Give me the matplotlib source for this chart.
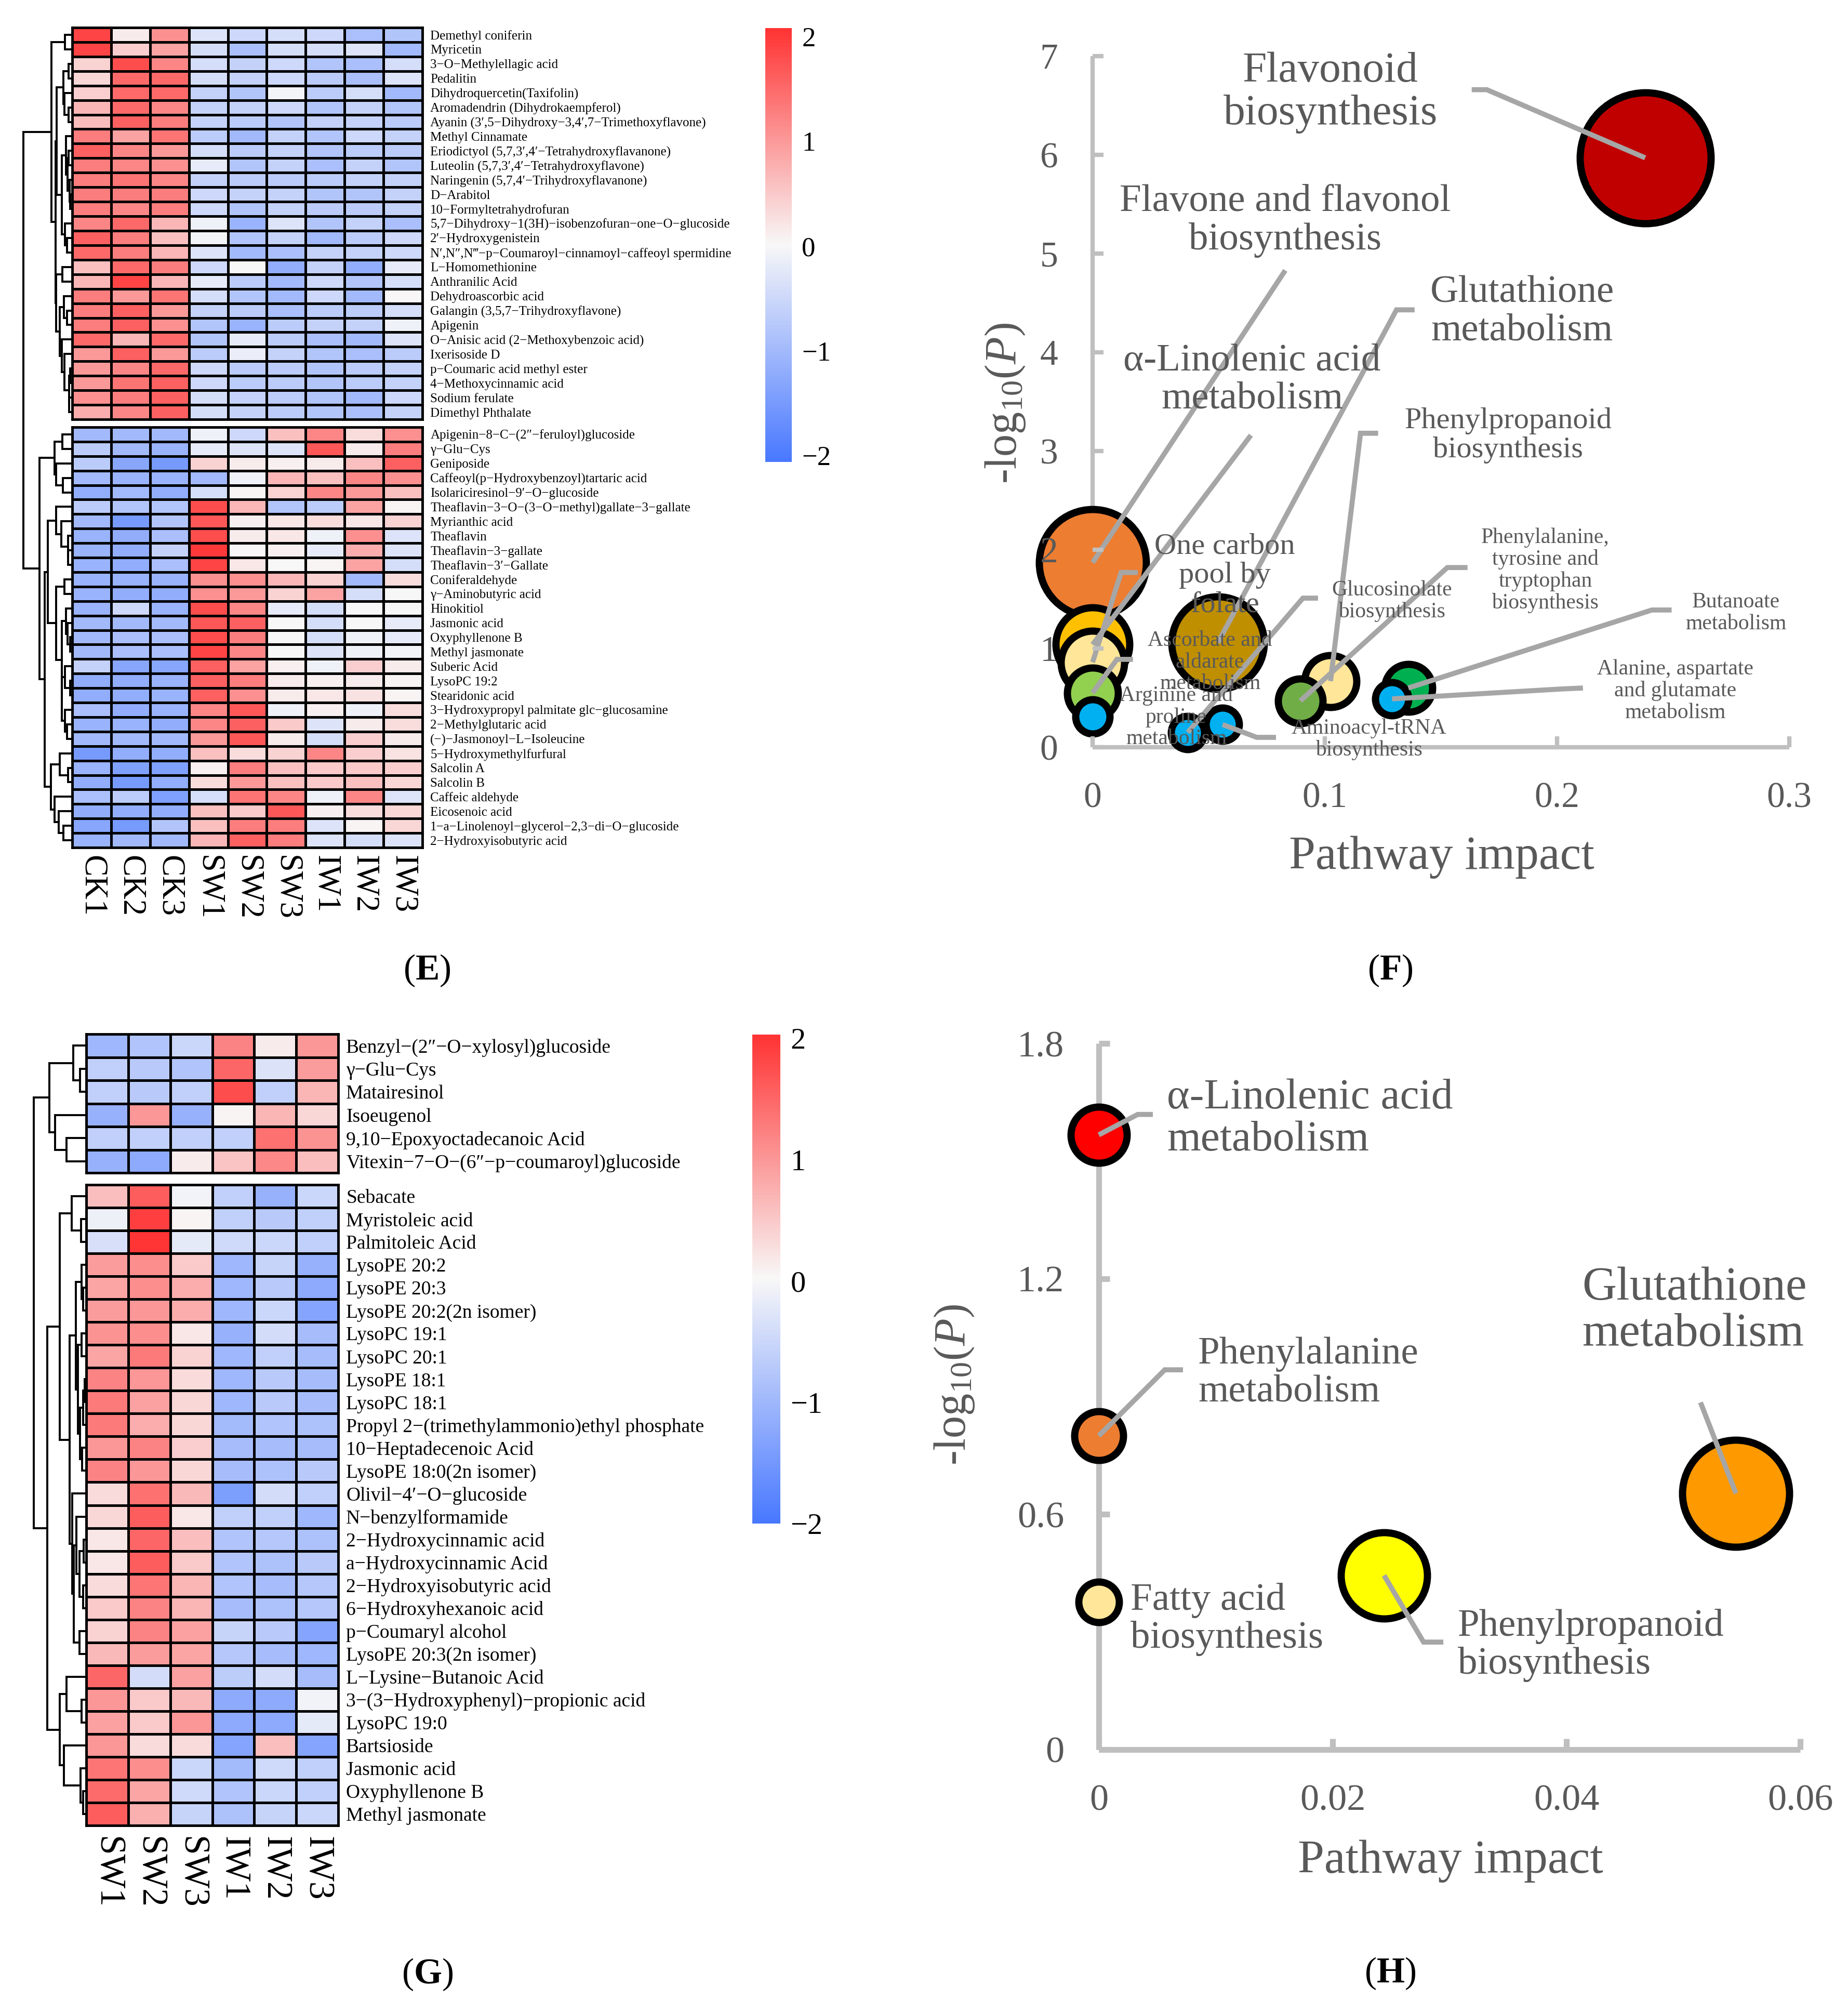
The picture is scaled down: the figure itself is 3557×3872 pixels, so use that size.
import numpy as np
import matplotlib
matplotlib.use('Agg')
import matplotlib.pyplot as plt
from matplotlib.colors import LinearSegmentedColormap, Normalize

plt.rcParams['font.family'] = ['Liberation Serif', 'DejaVu Serif']
plt.rcParams['mathtext.fontset'] = 'custom'
plt.rcParams['mathtext.rm'] = 'Liberation Serif'
plt.rcParams['mathtext.it'] = 'Liberation Serif:italic'
plt.rcParams['mathtext.bf'] = 'Liberation Serif:bold'

# ---------------- data ----------------
e_cols = ['CK1', 'CK2', 'CK3', 'SW1', 'SW2', 'SW3', 'IW1', 'IW2', 'IW3']
e_top_rows = [
    'Demethyl coniferin', 'Myricetin', '3−O−Methylellagic acid', 'Pedalitin',
    'Dihydroquercetin(Taxifolin)', 'Aromadendrin (Dihydrokaempferol)',
    'Ayanin (3′,5−Dihydroxy−3,4′,7−Trimethoxyflavone)', 'Methyl Cinnamate',
    'Eriodictyol (5,7,3′,4′−Tetrahydroxyflavanone)', 'Luteolin (5,7,3′,4′−Tetrahydroxyflavone)',
    'Naringenin (5,7,4′−Trihydroxyflavanone)', 'D−Arabitol', '10−Formyltetrahydrofuran',
    '5,7−Dihydroxy−1(3H)−isobenzofuran−one−O−glucoside', '2′−Hydroxygenistein',
    'N′,N″,N‴−p−Coumaroyl−cinnamoyl−caffeoyl spermidine', 'L−Homomethionine',
    'Anthranilic Acid', 'Dehydroascorbic acid', 'Galangin (3,5,7−Trihydroxyflavone)',
    'Apigenin', 'O−Anisic acid (2−Methoxybenzoic acid)', 'Ixerisoside D',
    'p−Coumaric acid methyl ester', '4−Methoxycinnamic acid', 'Sodium ferulate',
    'Dimethyl Phthalate']
e_top_vals = [
    [1.9, 0.15, 1.1, -0.3, -0.5, -0.4, -0.5, -0.9, -0.8],
    [1.9, 0.45, 0.9, -0.4, -0.9, -0.4, -0.4, -0.3, -1.0],
    [0.4, 1.8, 1.2, -0.4, -0.6, -0.5, -0.8, -0.9, -0.4],
    [0.35, 1.5, 1.5, -0.4, -0.6, -0.5, -0.7, -0.9, -0.3],
    [0.45, 1.5, 1.5, -0.6, -0.8, -0.05, -0.7, -0.4, -1.0],
    [0.7, 1.5, 1.2, -0.6, -0.6, -0.5, -0.8, -0.6, -0.8],
    [0.65, 1.6, 1.3, -0.6, -0.7, -0.8, -0.6, -0.6, -0.7],
    [1.3, 0.9, 1.4, -0.7, -1.0, -0.6, -0.8, -0.5, -0.6],
    [1.6, 1.2, 1.0, -0.4, -0.7, -0.6, -0.8, -0.7, -0.7],
    [1.3, 1.2, 1.1, -0.2, -0.8, -0.6, -0.9, -0.6, -0.8],
    [1.3, 1.4, 1.2, -0.6, -0.7, -0.7, -0.7, -0.6, -0.6],
    [1.3, 1.3, 1.3, -0.5, -0.6, -0.6, -0.8, -0.8, -0.6],
    [1.3, 1.2, 1.3, -0.5, -0.8, -0.6, -0.7, -0.7, -0.6],
    [1.2, 1.5, 0.7, -0.1, -1.1, -0.3, -0.8, -0.6, -0.9],
    [1.6, 1.3, 0.6, -0.05, -0.8, -0.6, -1.0, -0.7, -0.5],
    [1.5, 1.3, 0.7, -0.3, -1.0, -0.9, -0.6, -0.6, -0.5],
    [0.6, 1.5, 1.3, -0.5, 0.02, -1.2, -0.6, -1.2, -0.2],
    [0.7, 1.9, 0.7, -0.2, -0.7, -1.0, -0.5, -0.8, -0.4],
    [1.3, 1.0, 1.4, -0.4, -0.8, -1.0, -0.5, -1.0, 0.03],
    [1.3, 1.6, 1.0, -0.6, -0.7, -0.9, -0.7, -0.7, -0.4],
    [1.3, 1.6, 1.1, -0.8, -1.1, -0.7, -0.6, -0.6, -0.1],
    [1.5, 0.7, 1.5, -0.8, -0.2, -0.7, -0.9, -1.0, -0.3],
    [1.0, 1.6, 1.0, -0.7, -0.15, -0.6, -0.8, -0.9, -0.7],
    [1.0, 1.2, 1.5, -0.5, -0.7, -0.7, -0.8, -0.7, -0.6],
    [1.0, 1.4, 1.6, -0.5, -0.7, -0.7, -0.8, -0.7, -0.6],
    [1.1, 1.3, 1.6, -0.4, -0.6, -0.7, -0.8, -1.0, -0.5],
    [0.8, 1.2, 1.6, -0.4, -0.6, -0.7, -0.8, -0.9, -0.6]]
e_bot_rows = [
    'Apigenin−8−C−(2″−feruloyl)glucoside', 'γ−Glu−Cys', 'Geniposide',
    'Caffeoyl(p−Hydroxybenzoyl)tartaric acid', 'Isolariciresinol−9′−O−glucoside',
    'Theaflavin−3−O−(3−O−methyl)gallate−3−gallate', 'Myrianthic acid', 'Theaflavin',
    'Theaflavin−3−gallate', 'Theaflavin−3′−Gallate', 'Coniferaldehyde',
    'γ−Aminobutyric acid', 'Hinokitiol', 'Jasmonic acid', 'Oxyphyllenone B',
    'Methyl jasmonate', 'Suberic Acid', 'LysoPC 19:2', 'Stearidonic acid',
    '3−Hydroxypropyl palmitate glc−glucosamine', '2−Methylglutaric acid',
    '(−)−Jasmonoyl−L−Isoleucine', '5−Hydroxymethylfurfural', 'Salcolin A', 'Salcolin B',
    'Caffeic aldehyde', 'Eicosenoic acid', '1−a−Linolenoyl−glycerol−2,3−di−O−glucoside',
    '2−Hydroxyisobutyric acid']
e_bot_vals = [
    [-1.0, -1.0, -1.0, -0.1, -0.5, 0.6, 1.2, 0.3, 1.1],
    [-0.7, -1.0, -1.1, -0.2, -0.3, -0.3, 1.7, 0.15, 1.3],
    [-0.7, -1.3, -1.5, 0.4, 0.15, 0.1, 0.15, 0.6, 1.6],
    [-1.0, -1.1, -1.1, -1.0, -0.1, 0.7, 0.6, 1.2, 1.1],
    [-1.2, -1.0, -1.2, -0.4, 0.05, 0.4, 1.2, 1.0, 0.6],
    [-0.7, -0.8, -0.8, 1.8, 0.7, -0.8, -0.7, 0.9, 0.05],
    [-1.0, -1.5, -0.8, 1.7, 0.1, 0.2, 0.3, 0.2, 0.4],
    [-1.1, -1.2, -0.9, 1.8, 0.15, 0.2, -0.1, 1.1, -0.3],
    [-1.1, -1.2, -0.6, 2.0, 0.03, 0.1, -0.2, 0.8, -0.3],
    [-1.1, -1.2, -0.9, 1.9, 0.2, 0.02, 0.05, 0.9, -0.4],
    [-1.1, -1.1, -1.1, 1.1, 1.1, 0.7, 0.4, -1.0, 0.3],
    [-1.1, -1.2, -1.2, 1.1, 1.0, 0.4, 0.9, -0.4, 0.02],
    [-1.1, -0.5, -1.1, 1.8, 1.2, -0.2, -0.4, 0.02, 0.02],
    [-1.0, -1.0, -1.0, 1.7, 1.6, 0.02, -0.4, 0.02, -0.2],
    [-1.0, -0.9, -0.9, 1.8, 1.3, 0.02, -0.4, -0.1, -0.2],
    [-1.0, -0.9, -0.9, 1.9, 1.2, 0.02, -0.3, -0.1, -0.05],
    [-0.6, -1.3, -1.3, 1.6, 0.9, 0.1, -0.1, 0.45, 0.15],
    [-1.2, -1.2, -1.1, 1.6, 1.3, 0.15, 0.1, 0.15, 0.05],
    [-1.2, -1.2, -1.1, 1.6, 1.1, 0.15, 0.2, 0.25, 0.05],
    [-0.9, -1.2, -1.1, 1.2, 1.7, -0.1, 0.1, -0.1, 0.3],
    [-1.1, -1.1, -1.2, 1.2, 1.6, 0.5, -0.3, 0.15, 0.3],
    [-1.0, -1.0, -1.0, 1.0, 1.7, 0.15, -0.4, 0.45, 0.15],
    [-1.5, -1.2, -1.2, 0.6, 0.3, 0.4, 1.2, 0.45, 0.25],
    [-1.1, -1.4, -1.4, 0.1, 1.3, 0.6, 0.5, 0.5, 0.45],
    [-1.2, -1.5, -1.2, 0.3, 1.0, 0.6, 0.5, 0.6, 0.35],
    [-0.9, -0.7, -1.4, -0.4, 1.4, 1.2, -0.1, 1.2, -0.3],
    [-1.2, -1.2, -1.2, 0.6, 0.5, 1.7, 0.1, 0.3, 0.35],
    [-1.3, -1.5, -0.8, 0.6, 1.3, 1.3, -0.3, 0.05, 0.35],
    [-1.1, -1.0, -1.0, 0.7, 1.6, 1.3, -0.3, -0.4, -0.3]]

g_cols = ['SW1', 'SW2', 'SW3', 'IW1', 'IW2', 'IW3']
g_top_rows = ['Benzyl−(2″−O−xylosyl)glucoside', 'γ−Glu−Cys', 'Matairesinol', 'Isoeugenol',
              '9,10−Epoxyoctadecanoic Acid', 'Vitexin−7−O−(6″−p−coumaroyl)glucoside']
g_top_vals = [
    [-1.0, -0.8, -0.5, 1.2, 0.15, 1.0],
    [-0.6, -0.7, -0.8, 1.5, -0.3, 0.95],
    [-0.6, -0.7, -0.6, 1.75, -0.6, 0.7],
    [-1.1, 1.0, -1.1, 0.05, 0.7, 0.35],
    [-0.6, -0.6, -0.6, -0.6, 1.4, 1.05],
    [-1.1, -1.2, 0.15, 0.55, 1.15, 0.6]]
g_bot_rows = [
    'Sebacate', 'Myristoleic acid', 'Palmitoleic Acid', 'LysoPE 20:2', 'LysoPE 20:3',
    'LysoPE 20:2(2n isomer)', 'LysoPC 19:1', 'LysoPC 20:1', 'LysoPE 18:1', 'LysoPC 18:1',
    'Propyl 2−(trimethylammonio)ethyl phosphate', '10−Heptadecenoic Acid',
    'LysoPE 18:0(2n isomer)', 'Olivil−4′−O−glucoside', 'N−benzylformamide',
    '2−Hydroxycinnamic acid', 'a−Hydroxycinnamic Acid', '2−Hydroxyisobutyric acid',
    '6−Hydroxyhexanoic acid', 'p−Coumaryl alcohol', 'LysoPE 20:3(2n isomer)',
    'L−Lysine−Butanoic Acid', '3−(3−Hydroxyphenyl)−propionic acid', 'LysoPC 19:0',
    'Bartsioside', 'Jasmonic acid', 'Oxyphyllenone B', 'Methyl jasmonate']
g_bot_vals = [
    [0.6, 1.6, -0.05, -0.6, -1.1, -0.5],
    [-0.1, 1.9, 0.05, -0.6, -0.7, -0.6],
    [-0.35, 2.0, -0.2, -0.45, -0.5, -0.6],
    [0.95, 1.1, 0.5, -1.0, -0.55, -1.1],
    [0.85, 1.1, 0.8, -1.0, -0.7, -1.2],
    [0.95, 1.0, 0.8, -1.0, -0.5, -1.3],
    [1.05, 1.1, 0.2, -1.1, -0.4, -0.9],
    [0.85, 1.3, 0.4, -1.0, -0.6, -0.9],
    [1.2, 1.0, 0.3, -1.0, -0.7, -0.9],
    [1.3, 0.9, 0.35, -1.0, -0.7, -0.9],
    [1.3, 0.8, 0.35, -0.95, -0.8, -0.85],
    [1.0, 1.2, 0.45, -0.9, -0.9, -0.9],
    [1.2, 1.0, 0.35, -0.9, -0.85, -0.7],
    [0.3, 1.4, 0.65, -1.4, -0.4, -0.6],
    [0.35, 1.6, 0.2, -0.6, -0.6, -1.0],
    [0.2, 1.5, 0.6, -0.8, -0.75, -0.85],
    [0.2, 1.6, 0.5, -0.8, -0.85, -0.7],
    [0.3, 1.35, 0.7, -0.8, -0.9, -0.75],
    [0.5, 1.2, 0.7, -0.9, -0.85, -0.75],
    [0.4, 1.2, 0.9, -0.55, -0.7, -1.3],
    [0.65, 0.95, 0.85, -0.75, -0.9, -1.0],
    [1.5, -0.4, 0.9, -0.65, -0.4, -0.9],
    [1.0, 0.5, 0.65, -1.2, -1.2, -0.05],
    [0.9, 0.5, 1.0, -1.2, -1.2, -0.2],
    [1.0, 0.3, 0.3, -1.3, 0.6, -1.3],
    [1.35, 1.1, -0.5, -0.95, -0.45, -0.6],
    [1.45, 0.85, -0.45, -0.8, -0.5, -0.6],
    [1.6, 0.75, -0.55, -0.85, -0.55, -0.5]]

# panel F: pathway topology, listed in drawing order
f_pathways = ['Flavonoid\nbiosynthesis', 'Flavone and flavonol\nbiosynthesis',
              'α-Linolenic acid\nmetabolism', 'One carbon\npool by\nfolate',
              'Ascorbate and\naldarate\nmetabolism', 'Arginine and\nproline\nmetabolism',
              'Glutathione\nmetabolism', 'Glucosinolate\nbiosynthesis',
              'Aminoacyl-tRNA\nbiosynthesis', 'Phenylpropanoid\nbiosynthesis',
              'Phenylalanine,\ntyrosine and\ntryptophan\nbiosynthesis',
              'Butanoate\nmetabolism', 'Alanine, aspartate\nand glutamate\nmetabolism']
f_impact = [0.238, 0.0, 0.0, 0.0, 0.0, 0.0, 0.054, 0.041, 0.056, 0.1025, 0.0895, 0.136, 0.129]
f_logp = [5.97, 1.87, 1.04, 0.86, 0.55, 0.31, 1.06, 0.15, 0.23, 0.67, 0.47, 0.60, 0.49]
f_bubble = [126, 103, 71, 61, 49, 33, 89, 32, 32, 50, 43, 46, 32]
f_colors = ['#C00000', '#ED7D31', '#FFC000', '#FFE699', '#92D050', '#00B0F0', '#BF8F00',
            '#00B0F0', '#00B0F0', '#FFE699', '#70AD47', '#00B050', '#00B0F0']
f_xticks = [0, 0.1, 0.2, 0.3]
f_xticklabels = ['0', '0.1', '0.2', '0.3']
f_yticks = [0, 1, 2, 3, 4, 5, 6, 7]

# panel H
h_pathways = ['α-Linolenic acid\nmetabolism', 'Phenylalanine\nmetabolism',
              'Fatty acid\nbiosynthesis', 'Phenylpropanoid\nbiosynthesis',
              'Glutathione\nmetabolism']
h_impact = [0.0, 0.0, 0.0, 0.0244, 0.0545]
h_logp = [1.567, 0.80, 0.376, 0.444, 0.653]
h_bubble = [54, 47, 39, 83, 103]
h_colors = ['#FF0000', '#ED7D31', '#FFE699', '#FFFF00', '#FF9900']
h_xticks = [0, 0.02, 0.04, 0.06]
h_xticklabels = ['0', '0.02', '0.04', '0.06']
h_yticks = [0, 0.6, 1.2, 1.8]
h_yticklabels = ['0', '0.6', '1.2', '1.8']

# ---------------- layout helpers ----------------
W, H = 3557, 3872
DPI = 100
fig = plt.figure(figsize=(W / DPI, H / DPI), dpi=DPI)
fig.patch.set_facecolor('white')


def rect(x0, y0, x1, y1):
    return [x0 / W, 1 - y1 / H, (x1 - x0) / W, (y1 - y0) / H]


cmap = LinearSegmentedColormap.from_list('bwr_ph', ['#4878FF', '#F8F8F8', '#FF3333'])


def heat_block(box, vals, rows, vmin, vmax, label_fs, cols=None, col_fs=None, col_pad=11):
    ax = fig.add_axes(rect(*box))
    m = np.array(vals)
    ax.pcolormesh(m, cmap=cmap, vmin=vmin, vmax=vmax, edgecolors='black', linewidth=2.3)
    ax.set_xlim(0, m.shape[1])
    ax.set_ylim(m.shape[0], 0)
    ax.set_yticks(np.arange(len(rows)) + 0.5)
    ax.set_yticklabels(rows, fontsize=label_fs)
    ax.yaxis.tick_right()
    ax.tick_params(axis='y', length=0, pad=11)
    if cols is None:
        ax.set_xticks([])
    else:
        ax.set_xticks(np.arange(len(cols)) + 0.5)
        ax.set_xticklabels(cols, fontsize=col_fs, rotation=270)
        ax.tick_params(axis='x', length=0, pad=col_pad)
    for s in ax.spines.values():
        s.set_linewidth(3.5)
    return ax


def chain_tree(vals, leaf_pos):
    # complete linkage restricted to neighbouring clusters (keeps the row order)
    X = np.array(vals)
    D = np.sqrt(((X[:, None, :] - X[None, :, :]) ** 2).sum(-1))
    groups = [[i] for i in range(len(X))]
    nodes = [(p, 0.0) for p in leaf_pos]
    links = []
    while len(groups) > 1:
        d = [D[np.ix_(groups[k], groups[k + 1])].max() for k in range(len(groups) - 1)]
        k = int(np.argmin(d))
        (pa, ha), (pb, hb) = nodes[k], nodes[k + 1]
        h = max(d[k], ha, hb)
        links.append((pa, ha, pb, hb, h))
        groups[k:k + 2] = [groups[k] + groups[k + 1]]
        nodes[k:k + 2] = [((pa + pb) / 2, h)]
    return links, nodes[0][1]


def dendro(box, vals, leaf_pos):
    ax = fig.add_axes(rect(*box))
    links, top = chain_tree(vals, leaf_pos)
    for pa, ha, pb, hb, h in links:
        ax.plot([ha, h, h, hb], [pa, pa, pb, pb], color='black', lw=2.8,
                solid_joinstyle='miter', clip_on=False)
    ax.set_xlim(top, 0)
    ax.set_ylim(box[3], box[1])
    ax.axis('off')


def colorbar(box, vmin, vmax, fs):
    cax = fig.add_axes(rect(*box))
    sm = plt.cm.ScalarMappable(norm=Normalize(vmin, vmax), cmap=cmap)
    cb = fig.colorbar(sm, cax=cax, ticks=[-2, -1, 0, 1, 2])
    cb.outline.set_visible(False)
    cax.tick_params(length=0, labelsize=fs, pad=14)


# ---------------- panel E ----------------
e_top_box = (139, 53, 813, 807)
e_bot_box = (139, 822, 813, 1631)
heat_block(e_top_box, e_top_vals, e_top_rows, -2.06, 2.08, 18)
heat_block(e_bot_box, e_bot_vals, e_bot_rows, -2.06, 2.08, 18, e_cols, 45, 11)
e_leaf = ([e_top_box[1] + (i + 0.5) * (e_top_box[3] - e_top_box[1]) / len(e_top_rows)
           for i in range(len(e_top_rows))] +
          [e_bot_box[1] + (i + 0.5) * (e_bot_box[3] - e_bot_box[1]) / len(e_bot_rows)
           for i in range(len(e_bot_rows))])
dendro((45, 53, 139, 1631), e_top_vals + e_bot_vals, e_leaf)
colorbar((1473, 54, 1524, 889), -2.06, 2.08, 38)

# ---------------- panel G ----------------
g_top_box = (166, 1990, 651, 2257)
g_bot_box = (166, 2280, 651, 3513)
heat_block(g_top_box, g_top_vals, g_top_rows, -2.0, 2.03, 27)
heat_block(g_bot_box, g_bot_vals, g_bot_rows, -2.0, 2.03, 27, g_cols, 50, 15)
g_leaf = ([g_top_box[1] + (i + 0.5) * (g_top_box[3] - g_top_box[1]) / len(g_top_rows)
           for i in range(len(g_top_rows))] +
          [g_bot_box[1] + (i + 0.5) * (g_bot_box[3] - g_bot_box[1]) / len(g_bot_rows)
           for i in range(len(g_bot_rows))])
dendro((65, 1990, 166, 3513), g_top_vals + g_bot_vals, g_leaf)
colorbar((1448, 1991, 1502, 2932), -2.0, 2.03, 42)

# ---------------- bubble panels ----------------
AX_C = '#BFBFBF'
TXT_C = '#595959'
LEAD_C = '#A6A6A6'


def bubble_axes(box, xlim, ylim, xticks, xticklabels, yticks, yticklabels, lw, fs):
    ax = fig.add_axes(rect(*box))
    ax.set_xlim(*xlim)
    ax.set_ylim(*ylim)
    ax.patch.set_alpha(0)
    for s in ('top', 'right'):
        ax.spines[s].set_visible(False)
    ax.spines['left'].set_position(('data', 0))
    ax.spines['bottom'].set_position(('data', 0))
    ax.spines['left'].set_bounds(yticks[0], yticks[-1])
    ax.spines['bottom'].set_bounds(xticks[0], xticks[-1])
    for s in ('left', 'bottom'):
        ax.spines[s].set_color(AX_C)
        ax.spines[s].set_linewidth(lw)
        ax.spines[s].set_capstyle('butt')
        ax.spines[s].set_zorder(1)
    ax.set_xticks(xticks)
    ax.set_xticklabels(xticklabels)
    ax.set_yticks(yticks)
    ax.set_yticklabels(yticklabels)
    ax.tick_params(direction='in', length=15, width=lw, color=AX_C,
                   labelcolor=TXT_C, labelsize=fs, pad=48)
    # axis labels sit above the bubbles, the axis line below them
    ax.xaxis.set_zorder(4.5)
    ax.yaxis.set_zorder(4.5)
    return ax


def bubbles(ax, xs, ys, sizes, colors):
    for x, y, r, c in zip(xs, ys, sizes, colors):
        ax.scatter([x], [y], s=(2 * r * 72 / DPI) ** 2, color=c, edgecolors='black',
                   linewidths=10, zorder=3, clip_on=False)


# panel F
axF = bubble_axes((1879.5, 32, 3533, 1533), (-0.05, 0.32), (-0.5, 7.4),
                  f_xticks, f_xticklabels, f_yticks, [str(v) for v in f_yticks], 6, 50)
bubbles(axF, f_impact, f_logp, f_bubble, f_colors)

f_text_xy = [(0.1025, 6.63), (0.083, 5.33), (0.0687, 3.72), (0.057, 1.74), (0.0506, 0.86),
             (0.036, 0.305), (0.185, 4.41), (0.129, 1.48), (0.119, 0.08), (0.179, 3.16),
             (0.195, 1.79), (0.277, 1.36), (0.251, 0.57)]
f_text_fs = [60, 54, 54, 42, 30, 30, 54, 30, 30, 42, 30, 30, 30]
f_lead = [[(0.1633, 6.66), (0.1698, 6.66)], [(0.083, 4.83)], [(0.0682, 3.16)],
          [(0.0195, 1.77), (0.0123, 1.77)], [(0.0174, 0.89), (0.0105, 0.89)], [],
          [(0.1387, 4.43), (0.1309, 4.43)], [(0.0971, 1.51), (0.0906, 1.51)],
          [(0.079, 0.10), (0.0707, 0.10)], [(0.123, 3.18), (0.1154, 3.18)],
          [(0.1615, 1.82), (0.1528, 1.82)], [(0.2494, 1.39), (0.2409, 1.39)],
          [(0.2112, 0.60), (0.202, 0.59)]]
for i, name in enumerate(f_pathways):
    if f_lead[i]:
        px = [p[0] for p in f_lead[i]] + [f_impact[i]]
        py = [p[1] for p in f_lead[i]] + [f_logp[i]]
        axF.plot(px, py, color=LEAD_C, lw=7, zorder=4, clip_on=False,
                 solid_capstyle='butt', solid_joinstyle='miter')
    axF.text(f_text_xy[i][0], f_text_xy[i][1], name, ha='center', va='center',
             fontsize=f_text_fs[i], color=TXT_C, linespacing=1.1, zorder=5)

fig.text(1935 / W, 1 - 776 / H, r'-log$_{10}$($P$)', rotation=90, ha='center', va='center',
         fontsize=62, color=TXT_C)
fig.text(2775 / W, 1 - 1650 / H, 'Pathway impact', ha='center', va='center',
         fontsize=66, color=TXT_C)

# panel H
axH = bubble_axes((2025, 1932.5, 3555, 3457.6), (-0.004, 0.064), (-0.12, 1.9),
                  h_xticks, h_xticklabels, h_yticks, h_yticklabels, 8, 52)
bubbles(axH, h_impact, h_logp, h_bubble, h_colors)

h_text_xy = [(0.00582, 1.607), (0.00849, 0.960), (0.00271, 0.332), (0.0307, 0.266),
             (0.04133, 1.118)]
h_text_fs = [60, 54, 54, 54, 66]
h_lead = [[(0.00462, 1.619), (0.00333, 1.619)], [(0.0072, 0.968), (0.00564, 0.968)], [],
          [(0.02947, 0.274), (0.02778, 0.274)], [(0.05147, 0.885)]]
for i, name in enumerate(h_pathways):
    if h_lead[i]:
        px = [p[0] for p in h_lead[i]] + [h_impact[i]]
        py = [p[1] for p in h_lead[i]] + [h_logp[i]]
        axH.plot(px, py, color=LEAD_C, lw=7, zorder=4, clip_on=False,
                 solid_capstyle='butt', solid_joinstyle='miter')
    axH.text(h_text_xy[i][0], h_text_xy[i][1], name, ha='left', va='center',
             fontsize=h_text_fs[i], color=TXT_C, linespacing=1.1, zorder=5)

fig.text(1837 / W, 1 - 2665 / H, r'-log$_{10}$($P$)', rotation=90, ha='center', va='center',
         fontsize=62, color=TXT_C)
fig.text(2792 / W, 1 - 3582 / H, 'Pathway impact', ha='center', va='center',
         fontsize=66, color=TXT_C)

# panel letters
for lab, x, y in [('E', 822, 1868), ('F', 2676, 1868), ('G', 823, 3800), ('H', 2676, 3798)]:
    fig.text(x / W, 1 - y / H, r'($\mathbf{%s}$)' % lab, ha='center', va='center', fontsize=50)

fig.savefig('out.png', dpi=DPI, facecolor='white')
